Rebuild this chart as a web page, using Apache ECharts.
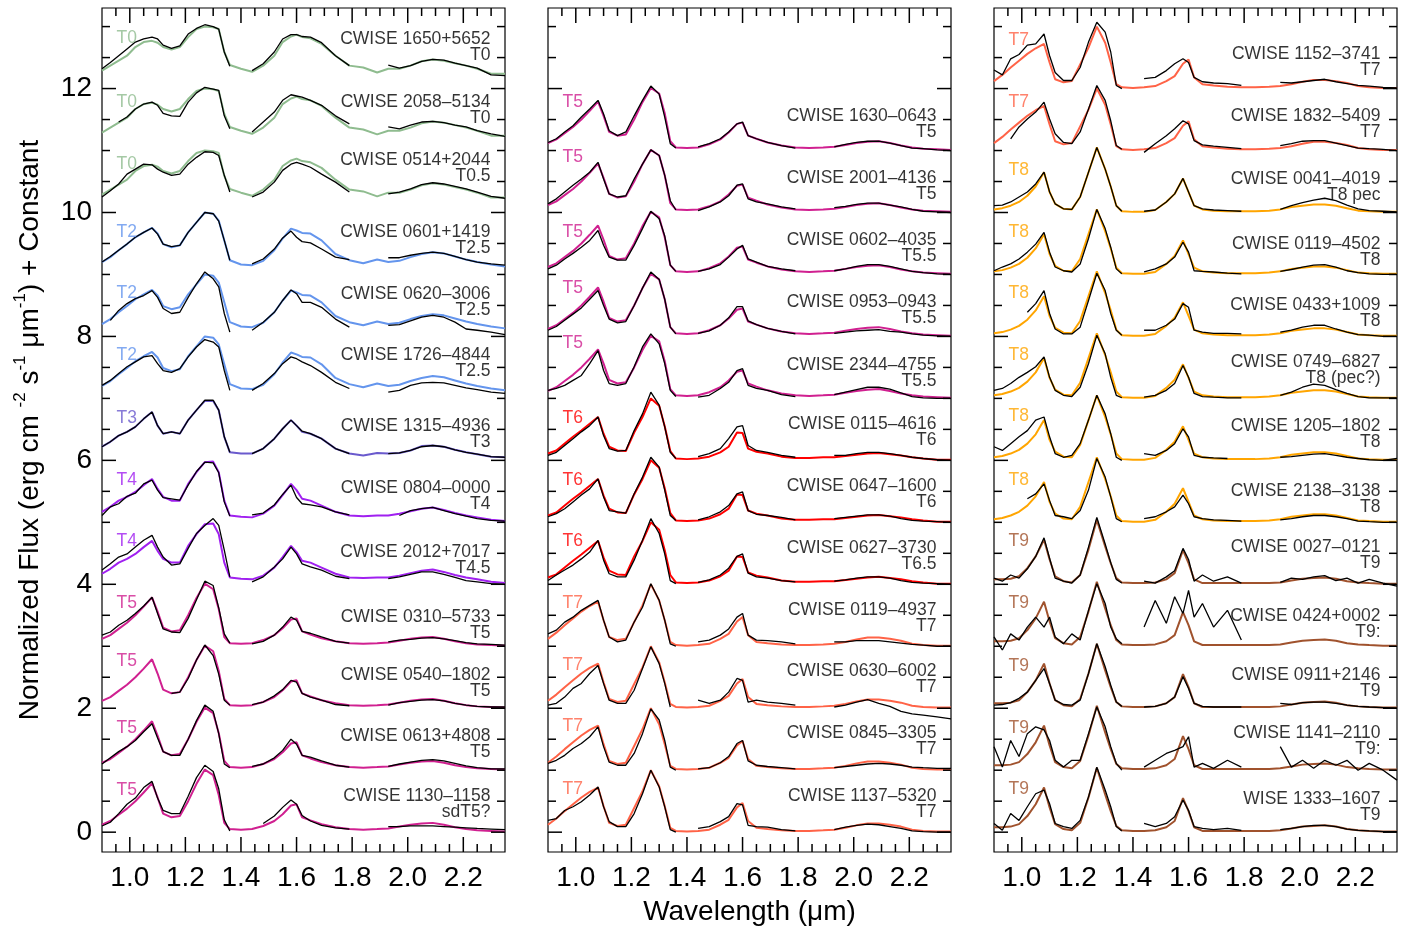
<!DOCTYPE html>
<html><head><meta charset="utf-8">
<script src="https://cdn.jsdelivr.net/npm/echarts@6/dist/echarts.min.js"></script>
<style>html,body{margin:0;padding:0;background:#fff}#c{width:1409px;height:931px}</style>
</head><body><div id="c"></div>
<script>
// ---------------- DATA ----------------
const wavelength = [0.90,0.93,0.96,0.99,1.02,1.05,1.08,1.10,1.12,1.15,1.18,1.21,1.24,1.27,1.30,1.32,1.34,1.36,1.40,1.44,1.48,1.52,1.55,1.58,1.60,1.62,1.65,1.69,1.74,1.79,1.84,1.89,1.93,1.97,2.01,2.05,2.09,2.13,2.17,2.21,2.25,2.30,2.35];

// spectral standards (normalized flux)
const stdT0 = [0.29,0.37,0.45,0.53,0.67,0.75,0.77,0.74,0.67,0.63,0.67,0.83,0.96,1.00,0.99,0.96,0.59,0.38,0.32,0.27,0.37,0.53,0.75,0.84,0.87,0.83,0.81,0.72,0.53,0.37,0.34,0.26,0.32,0.32,0.37,0.44,0.47,0.45,0.41,0.37,0.32,0.24,0.24];
const stdT2 = [0.20,0.28,0.39,0.49,0.60,0.68,0.75,0.66,0.49,0.44,0.47,0.68,0.84,1.00,0.98,0.87,0.55,0.23,0.16,0.15,0.22,0.39,0.58,0.74,0.71,0.67,0.66,0.55,0.33,0.23,0.18,0.24,0.20,0.22,0.28,0.33,0.36,0.34,0.29,0.24,0.20,0.16,0.13];
const stdT3 = [0.22,0.30,0.40,0.46,0.54,0.67,0.78,0.56,0.43,0.46,0.43,0.65,0.81,0.96,0.96,0.81,0.38,0.13,0.11,0.11,0.19,0.35,0.51,0.65,0.56,0.46,0.43,0.35,0.19,0.11,0.08,0.12,0.11,0.12,0.16,0.23,0.24,0.22,0.17,0.13,0.10,0.06,0.05];
const stdT4 = [0.17,0.25,0.35,0.41,0.49,0.60,0.70,0.54,0.41,0.35,0.35,0.62,0.81,0.97,0.98,0.81,0.35,0.11,0.09,0.08,0.14,0.27,0.44,0.62,0.52,0.38,0.35,0.27,0.17,0.11,0.10,0.11,0.11,0.14,0.18,0.22,0.24,0.20,0.15,0.11,0.08,0.04,0.02];
const stdT5 = [0.12,0.18,0.28,0.38,0.50,0.64,0.79,0.56,0.30,0.24,0.26,0.50,0.78,1.01,0.92,0.60,0.15,0.05,0.04,0.05,0.10,0.18,0.29,0.43,0.45,0.24,0.19,0.13,0.08,0.05,0.04,0.05,0.06,0.09,0.12,0.14,0.15,0.12,0.08,0.05,0.03,0.02,0.01];
const stdT6 = [0.11,0.16,0.27,0.38,0.48,0.59,0.70,0.43,0.22,0.16,0.15,0.45,0.70,1.00,0.88,0.55,0.15,0.03,0.02,0.03,0.06,0.13,0.22,0.45,0.44,0.19,0.14,0.11,0.06,0.04,0.04,0.05,0.05,0.07,0.09,0.11,0.12,0.10,0.08,0.05,0.03,0.01,0.01];
const stdT7 = [0.12,0.22,0.34,0.45,0.56,0.65,0.72,0.42,0.15,0.10,0.12,0.39,0.66,1.00,0.74,0.42,0.07,0.02,0.01,0.02,0.04,0.12,0.20,0.40,0.47,0.18,0.07,0.05,0.03,0.02,0.02,0.03,0.04,0.07,0.11,0.14,0.14,0.12,0.09,0.04,0.02,0.01,0.01];
const stdT8 = [0.05,0.07,0.11,0.17,0.27,0.42,0.65,0.33,0.14,0.06,0.05,0.25,0.65,1.05,0.70,0.42,0.11,0.02,0.01,0.01,0.04,0.17,0.30,0.55,0.33,0.11,0.05,0.03,0.02,0.02,0.02,0.03,0.05,0.09,0.11,0.13,0.13,0.11,0.07,0.03,0.02,0.01,0.01];
const stdT9 = [0.08,0.08,0.09,0.13,0.26,0.45,0.72,0.40,0.13,0.05,0.03,0.15,0.56,1.04,0.61,0.34,0.10,0.03,0.02,0.02,0.03,0.08,0.18,0.55,0.34,0.08,0.02,0.02,0.02,0.02,0.02,0.02,0.03,0.06,0.09,0.10,0.11,0.09,0.05,0.03,0.02,0.01,0.01];

// observed spectra, left panel
const fluxL1650 = [0.32,0.42,0.53,0.64,0.75,0.80,0.83,0.80,0.70,0.65,0.69,0.88,0.97,1.03,1.00,0.96,0.59,0.36,null,0.29,0.40,0.59,0.80,0.87,0.87,0.84,0.83,0.74,0.53,0.37,null,null,0.38,0.33,0.37,0.44,0.47,0.46,0.41,0.37,0.33,0.22,0.21];
const fluxL2058 = [null,null,0.46,0.54,0.67,0.75,0.78,0.73,0.60,0.56,0.55,0.78,0.93,1.02,0.99,0.97,0.56,0.35,null,0.30,0.46,0.62,0.81,0.90,0.88,0.86,0.81,0.73,0.56,0.43,null,null,0.38,0.35,0.41,0.46,0.47,0.45,0.41,0.38,0.32,0.27,0.23];
const fluxL0514 = [0.25,0.35,0.46,0.62,0.70,0.78,0.77,0.70,0.65,0.60,0.62,0.78,0.89,0.98,0.97,0.92,0.60,0.33,null,0.25,0.33,0.49,0.68,0.78,0.81,0.78,0.73,0.62,0.49,0.33,null,null,0.30,0.33,0.38,0.45,0.48,0.46,0.42,0.38,0.33,0.26,0.23];
const fluxL0601 = [0.20,0.29,0.39,0.49,0.60,0.68,0.75,0.65,0.49,0.45,0.47,0.68,0.84,1.00,0.98,0.86,0.55,0.23,null,0.17,0.25,0.41,0.59,0.70,0.60,0.53,0.51,0.41,0.28,0.24,null,null,0.27,0.27,0.31,0.34,0.36,0.34,0.29,0.24,0.20,0.17,0.15];
const fluxL0620 = [null,0.26,0.42,0.53,0.61,0.66,0.74,0.63,0.45,0.37,0.39,0.63,0.85,1.04,0.93,0.80,0.37,0.07,null,0.10,0.23,0.39,0.58,0.75,0.69,0.55,0.55,0.47,0.28,0.15,null,null,0.18,0.19,0.25,0.31,0.34,0.31,0.23,0.12,0.10,0.07,0.03];
const fluxL1726 = [0.21,0.29,0.40,0.51,0.59,0.67,0.69,0.56,0.45,0.42,0.48,0.67,0.83,0.95,0.91,0.83,0.45,0.13,null,0.13,0.24,0.40,0.56,0.67,0.64,0.59,0.53,0.42,0.26,0.16,null,null,0.10,0.13,0.21,0.25,0.26,0.25,0.21,0.17,0.14,0.10,0.08];
const fluxL1315 = [0.22,0.30,0.40,0.46,0.54,0.67,0.78,0.56,0.43,0.46,0.43,0.65,0.81,0.97,0.97,0.81,0.38,0.13,null,0.11,0.19,0.35,0.51,0.65,0.56,0.47,0.43,0.35,0.19,0.11,null,null,0.11,0.12,0.16,0.22,0.24,0.22,0.17,0.13,0.10,0.06,0.05];
const fluxL0804 = [0.11,0.25,0.30,0.42,0.47,0.62,0.68,0.52,0.40,0.38,0.36,0.60,0.82,0.97,0.96,0.80,0.33,0.10,null,0.12,0.15,0.28,0.45,0.60,0.40,0.30,0.28,0.25,0.17,0.12,null,null,null,0.11,0.19,0.22,0.24,0.19,0.14,0.10,0.06,0.03,0.02];
const fluxL2012 = [0.23,0.33,0.44,0.49,0.60,0.71,0.79,0.60,0.44,0.31,0.33,0.58,0.82,0.95,1.06,0.95,0.55,0.12,null,0.04,0.12,0.28,0.41,0.60,0.49,0.33,0.28,0.23,0.13,0.09,null,null,0.09,0.12,0.16,0.20,0.20,0.16,0.11,0.06,0.04,0.01,0.00];
const fluxL0310 = [0.18,0.23,0.34,0.42,0.53,0.65,0.79,0.53,0.28,0.23,0.22,0.45,0.75,1.05,0.98,0.62,0.20,0.05,null,0.04,0.08,0.18,0.31,0.47,0.42,0.24,0.21,0.15,0.08,0.05,null,null,0.07,0.10,0.11,0.13,0.14,0.12,0.09,0.06,0.04,0.03,0.02];
const fluxL0540 = [null,null,null,null,null,null,null,null,null,0.24,0.26,0.48,0.78,1.02,0.85,0.55,0.13,0.05,null,0.06,0.10,0.20,0.30,0.45,0.42,0.24,0.18,0.13,0.06,0.04,null,null,0.05,0.09,0.11,0.13,0.14,0.12,0.08,0.05,0.03,0.02,0.02];
const fluxL0613 = [0.10,0.20,0.30,0.38,0.48,0.62,0.75,0.52,0.30,0.24,0.24,0.50,0.80,1.05,0.95,0.59,0.10,0.04,null,0.06,0.10,0.20,0.32,0.50,0.42,0.24,0.21,0.15,0.08,0.05,null,null,0.06,0.10,0.13,0.16,0.17,0.15,0.11,0.07,0.04,0.02,0.02];
const fluxL1130 = [0.10,0.16,0.30,0.45,0.55,0.72,0.82,0.55,0.35,0.30,0.30,0.58,0.88,1.08,0.98,0.70,0.20,0.02,null,null,0.14,0.26,0.40,0.52,0.45,0.27,0.18,0.11,0.07,0.05,null,null,0.09,0.09,0.10,0.10,0.10,0.09,0.08,0.07,0.06,0.05,0.04];

// middle panel
const fluxM1630 = [0.13,0.19,0.30,0.40,0.54,0.67,0.81,0.59,0.32,0.24,0.30,0.56,0.81,1.04,0.91,0.54,0.11,0.04,null,0.06,0.11,0.19,0.30,0.43,0.46,0.24,0.19,0.13,0.08,0.04,null,null,0.06,0.10,0.13,0.15,0.15,0.12,0.08,0.04,0.03,0.01,0.00];
const fluxM2001 = [0.14,0.22,0.33,0.44,0.54,0.65,0.81,0.54,0.30,0.25,0.27,0.54,0.78,1.01,0.92,0.60,0.19,0.04,null,0.03,0.09,0.17,0.27,0.44,0.46,0.22,0.17,0.14,0.09,0.06,null,null,0.08,0.10,0.13,0.15,0.15,0.12,0.09,0.05,0.02,0.01,0.00];
const fluxM0602 = [0.09,0.15,0.25,0.34,0.44,0.55,0.71,0.47,0.28,0.23,0.23,0.47,0.74,1.02,0.90,0.62,0.15,0.05,null,0.05,0.09,0.16,0.28,0.41,0.47,0.25,0.20,0.13,0.09,0.06,null,null,0.06,0.09,0.13,0.16,0.16,0.13,0.09,0.05,0.03,0.01,0.00];
const fluxM0953 = [0.10,0.16,0.26,0.36,0.46,0.60,0.74,0.50,0.28,0.22,0.24,0.50,0.78,1.04,0.92,0.60,0.15,0.04,null,0.05,0.09,0.18,0.30,0.48,0.48,0.25,0.19,0.13,0.08,0.04,null,null,0.05,0.07,0.09,0.10,0.11,0.08,0.07,0.04,0.02,0.01,0.00];
const fluxM2344 = [0.13,0.16,0.21,0.29,0.37,0.56,0.77,0.45,0.24,0.21,0.24,0.51,0.83,1.04,0.88,0.56,0.13,0.03,null,0.02,0.05,0.16,0.26,0.45,0.48,0.21,0.16,0.13,0.06,0.03,null,null,0.06,0.10,0.14,0.18,0.18,0.15,0.09,0.03,0.01,0.00,0.00];
const fluxM0115 = [0.08,0.13,0.24,0.35,0.46,0.56,0.70,0.40,0.19,0.15,0.16,0.48,0.75,1.10,0.89,0.54,0.13,0.03,null,0.06,0.11,0.19,0.35,0.54,0.56,0.24,0.16,0.13,0.08,0.05,null,null,0.08,0.08,0.11,0.13,0.13,0.11,0.08,0.05,0.03,0.01,0.00];
const fluxM0647 = [0.09,0.14,0.22,0.33,0.44,0.54,0.70,0.41,0.19,0.17,0.15,0.46,0.73,1.05,0.89,0.52,0.11,0.03,null,0.04,0.09,0.17,0.27,0.46,0.49,0.19,0.13,0.11,0.08,0.04,null,null,0.06,0.08,0.10,0.12,0.12,0.10,0.06,0.03,0.02,0.01,0.00];
const fluxM0627 = [0.06,0.15,0.23,0.31,0.41,0.52,0.71,0.39,0.17,0.12,0.12,0.39,0.71,1.06,0.82,0.49,0.06,0.01,null,0.03,0.07,0.15,0.26,0.45,0.49,0.18,0.12,0.10,0.06,0.04,null,null,0.05,0.07,0.10,0.12,0.12,0.10,0.06,0.03,0.02,0.01,0.00];
const fluxM0119 = [0.20,0.26,0.39,0.47,0.58,0.66,0.74,0.42,0.15,0.07,0.10,0.39,0.63,1.01,0.74,0.42,0.04,0.00,null,0.07,0.10,0.18,0.28,0.47,0.53,0.18,0.10,0.09,0.07,0.04,null,null,0.07,0.07,0.09,0.09,0.09,0.07,0.05,0.03,0.02,0.00,0.00];
const fluxM0630 = [0.05,0.08,0.18,0.32,0.40,0.56,0.69,0.40,0.13,0.08,0.08,0.29,0.64,0.99,0.72,0.40,0.02,null,null,0.13,0.08,0.13,0.26,0.48,0.45,0.10,0.13,0.10,0.08,0.05,null,null,0.02,0.05,0.10,0.14,0.08,0.03,-0.05,-0.09,-0.11,-0.14,-0.17];
const fluxM0845 = [0.11,0.16,0.24,0.35,0.43,0.54,0.70,0.38,0.13,0.08,0.08,0.27,0.59,0.99,0.81,0.48,0.05,0.00,null,0.02,0.04,0.12,0.22,0.43,0.48,0.15,0.08,0.06,0.04,0.02,null,null,0.04,0.06,0.08,0.10,0.11,0.10,0.08,0.05,0.04,0.03,0.03];
const fluxM1137 = [0.19,0.22,0.35,0.41,0.49,0.60,0.73,0.41,0.17,0.09,0.09,0.30,0.62,1.00,0.73,0.41,0.04,0.00,null,0.06,0.09,0.17,0.25,0.46,0.44,0.11,0.09,0.08,0.04,0.02,null,null,0.04,0.08,0.11,0.13,0.12,0.09,0.06,0.02,0.01,0.00,0.00];

// right panel
const fluxR1152 = [0.30,0.22,0.48,0.55,0.70,0.72,0.88,0.53,0.26,0.13,0.13,0.34,0.75,1.07,0.91,0.59,0.05,0.00,null,0.16,0.18,0.29,0.40,0.48,0.42,0.18,0.11,0.09,0.08,0.05,null,null,0.10,0.09,0.11,0.13,0.15,0.11,0.08,0.05,0.04,0.02,0.01];
const fluxR1832 = [null,null,0.19,0.38,0.51,0.62,0.78,0.51,0.27,0.13,0.11,0.30,0.67,1.05,0.81,0.48,0.08,0.02,null,-0.03,0.11,0.24,0.35,0.48,0.43,0.16,0.09,0.07,0.05,0.03,null,null,0.08,0.11,0.15,0.16,0.16,0.12,0.08,0.04,0.03,0.02,0.00];
const fluxR0041 = [0.11,0.12,0.17,0.25,0.33,0.46,0.65,0.33,0.14,0.06,0.05,0.25,0.65,1.05,0.70,0.42,0.11,0.02,null,0.02,0.04,0.17,0.30,0.55,0.33,0.11,0.06,0.04,0.03,0.02,null,null,0.05,0.11,0.16,0.20,0.23,0.19,0.12,0.06,0.03,0.02,0.01];
const fluxR0119 = [0.06,0.12,0.17,0.25,0.36,0.49,0.68,0.36,0.12,0.06,0.04,0.17,0.58,1.05,0.74,0.44,0.09,0.01,null,0.04,0.09,0.17,0.28,0.52,0.36,0.06,0.05,0.04,0.02,0.01,null,null,0.05,0.08,0.12,0.15,0.16,0.12,0.06,0.03,0.01,0.00,0.00];
const fluxR0433 = [null,null,null,null,0.39,0.53,0.74,0.37,0.12,0.04,0.04,0.15,0.58,1.02,0.74,0.37,0.10,0.02,null,0.10,0.10,0.18,0.28,0.53,0.47,0.10,0.07,0.05,0.05,0.04,null,null,0.07,0.10,0.15,0.18,0.18,0.12,0.07,0.03,0.02,0.00,0.00];
const fluxR0749 = [0.13,0.16,0.24,0.34,0.42,0.51,0.67,0.34,0.13,0.05,0.03,0.18,0.56,1.02,0.72,0.34,0.05,0.01,null,0.02,0.05,0.13,0.24,0.53,0.34,0.08,0.03,0.02,0.01,0.01,null,null,0.05,0.10,0.18,0.23,0.21,0.14,0.08,0.03,0.01,0.01,0.01];
const fluxR1205 = [0.22,0.16,0.27,0.38,0.48,0.65,0.70,0.38,0.11,0.05,0.08,0.27,0.65,1.05,0.75,0.43,0.05,0.00,null,0.11,0.08,0.16,0.27,0.51,0.38,0.08,0.05,0.04,0.03,null,null,null,0.05,0.06,0.08,0.10,0.11,0.08,0.05,0.03,0.01,0.00,0.03];
const fluxR2138 = [null,null,null,null,0.38,0.46,0.62,0.35,0.11,0.09,0.06,0.19,0.52,1.03,0.73,0.41,0.06,0.01,null,0.06,0.09,0.17,0.25,0.44,0.30,0.09,0.06,0.04,0.03,0.02,null,null,0.04,0.06,0.09,0.11,0.11,0.09,0.06,0.02,0.01,0.00,0.00];
const fluxR0027 = [0.10,0.05,0.15,0.10,0.25,0.45,0.75,0.42,0.10,0.05,0.02,0.15,0.60,1.08,0.65,0.35,0.08,0.02,null,0.05,0.02,0.12,0.22,0.58,0.40,0.05,0.15,0.05,0.12,0.02,null,null,0.03,0.10,0.08,0.12,0.14,0.06,0.10,0.02,0.08,0.02,-0.03];
const fluxR0424 = [0.15,-0.06,0.20,0.10,0.31,0.47,0.31,0.47,0.15,0.04,0.20,0.10,0.58,1.01,0.69,0.31,0.12,0.04,null,0.31,0.74,0.37,0.80,0.53,0.90,0.47,0.69,0.31,0.58,0.10,null,null,null,null,null,null,null,null,null,null,null,null,null];
const fluxR0911 = [0.05,0.06,0.09,0.16,0.26,0.45,0.64,0.40,0.13,0.06,0.05,0.13,0.56,1.04,0.67,0.37,0.10,0.03,null,0.02,0.03,0.08,0.18,0.51,0.32,0.08,0.03,0.02,0.02,0.02,null,null,0.08,0.06,0.09,0.10,0.10,0.08,0.05,0.03,0.02,0.01,0.00];
const fluxR1141 = [0.38,0.05,0.48,0.22,0.59,0.70,0.65,0.48,0.16,0.05,0.16,0.16,0.59,1.02,0.70,0.38,0.11,0.00,null,0.05,0.16,0.27,0.32,0.38,0.54,0.05,0.11,0.03,0.16,0.05,null,null,0.38,0.05,0.16,0.03,0.16,0.08,0.16,0.00,0.11,0.00,-0.16];
const fluxR1333 = [0.14,0.03,0.30,0.19,0.41,0.62,0.68,0.46,0.14,0.09,0.06,0.19,0.57,1.05,0.68,0.41,0.09,0.02,null,0.14,0.09,0.14,0.25,0.52,0.35,0.09,0.06,0.04,0.06,0.03,null,null,0.04,0.06,0.09,0.11,0.11,0.09,0.05,0.03,0.02,0.01,0.01];

// names, types, standards, offsets
const leftNames = ['CWISE 1650+5652','CWISE 2058\u20135134','CWISE 0514+2044','CWISE 0601+1419','CWISE 0620\u20133006','CWISE 1726\u20134844','CWISE 1315\u20134936','CWISE 0804\u20130000','CWISE 2012+7017','CWISE 0310\u20135733','CWISE 0540\u20131802','CWISE 0613+4808','CWISE 1130\u20131158'];
const leftTypes = ['T0','T0','T0.5','T2.5','T2.5','T2.5','T3','T4','T4.5','T5','T5','T5','sdT5?'];
const leftStd = ['T0','T0','T0','T2','T2','T2','T3','T4','T4','T5','T5','T5','T5'];
const leftOffsets = [12,11,10,9,8,7,6,5,4,3,2,1,0];
const leftFlux = [fluxL1650,fluxL2058,fluxL0514,fluxL0601,fluxL0620,fluxL1726,fluxL1315,fluxL0804,fluxL2012,fluxL0310,fluxL0540,fluxL0613,fluxL1130];

const midNames = ['CWISE 1630\u20130643','CWISE 2001\u20134136','CWISE 0602\u20134035','CWISE 0953\u20130943','CWISE 2344\u20134755','CWISE 0115\u20134616','CWISE 0647\u20131600','CWISE 0627\u20133730','CWISE 0119\u20134937','CWISE 0630\u20136002','CWISE 0845\u20133305','CWISE 1137\u20135320'];
const midTypes = ['T5','T5','T5.5','T5.5','T5.5','T6','T6','T6.5','T7','T7','T7','T7'];
const midStd = ['T5','T5','T5','T5','T5','T6','T6','T6','T7','T7','T7','T7'];
const midOffsets = [11,10,9,8,7,6,5,4,3,2,1,0];
const midFlux = [fluxM1630,fluxM2001,fluxM0602,fluxM0953,fluxM2344,fluxM0115,fluxM0647,fluxM0627,fluxM0119,fluxM0630,fluxM0845,fluxM1137];

const rightNames = ['CWISE 1152\u20133741','CWISE 1832\u20135409','CWISE 0041\u20134019','CWISE 0119\u20134502','CWISE 0433+1009','CWISE 0749\u20136827','CWISE 1205\u20131802','CWISE 2138\u20133138','CWISE 0027\u20130121','CWISE 0424+0002','CWISE 0911+2146','CWISE 1141\u20132110','WISE 1333\u20131607'];
const rightTypes = ['T7','T7','T8 pec','T8','T8','T8 (pec?)','T8','T8','T9','T9:','T9','T9:','T9'];
const rightStd = ['T7','T7','T8','T8','T8','T8','T8','T8','T9','T9','T9','T9','T9'];
const rightOffsets = [12,11,10,9,8,7,6,5,4,3,2,1,0];
const rightFlux = [fluxR1152,fluxR1832,fluxR0041,fluxR0119,fluxR0433,fluxR0749,fluxR1205,fluxR2138,fluxR0027,fluxR0424,fluxR0911,fluxR1141,fluxR1333];

const xTickLabels = [1.0,1.2,1.4,1.6,1.8,2.0,2.2];
const yTickLabels = [0,2,4,6,8,10,12];

// ---------------- LAYOUT / STYLE ----------------
const FONT = '"Liberation Sans", Arial, Helvetica, sans-serif';
const XMIN = 0.9, XMAX = 2.35, YMIN = -0.32, YMAX = 13.3;
const GRID_W = 403, GRID_H = 844, GRID_TOP = 8;
const stdTemplates = {T0:stdT0,T2:stdT2,T3:stdT3,T4:stdT4,T5:stdT5,T6:stdT6,T7:stdT7,T8:stdT8,T9:stdT9};
const stdColors = {T0:'#8FBC8F',T2:'#6495ED',T3:'#6A5ACD',T4:'#A020F0',T5:'#D02090',T6:'#FF0000',T7:'#FF6347',T8:'#FFA500',T9:'#A0522D'};
const nameLiftL = [0.66,0.65,0.71,0.55,0.54,0.56,0.41,0.41,0.38,0.34,0.39,0.41,0.44];
const stdLiftL  = [0.80,0.78,0.77,0.67,0.69,0.69,0.67,0.68,0.68,0.68,0.75,0.67,0.67];
const nameLiftM = [0.41,0.41,0.42,0.41,0.40,0.44,0.45,0.45,0.45,0.46,0.46,0.45];
const stdLiftM  = [0.78,0.88,0.68,0.77,0.88,0.67,0.68,0.68,0.69,0.69,0.70,0.68];
const nameLiftR = [0.41,0.42,0.40,0.35,0.36,0.45,0.41,0.37,0.47,0.35,0.40,0.46,0.40];
const stdLiftR  = [0.77,0.78,0.68,0.68,0.69,0.69,0.70,0.68,0.69,0.69,0.67,0.67,0.68];

const panels = [
  {left:102, names:leftNames, types:leftTypes, stds:leftStd, offsets:leftOffsets, flux:leftFlux, nameLift:nameLiftL, stdLift:stdLiftL, inset:14},
  {left:548, names:midNames, types:midTypes, stds:midStd, offsets:midOffsets, flux:midFlux, nameLift:nameLiftM, stdLift:stdLiftM, inset:14},
  {left:994, names:rightNames, types:rightTypes, stds:rightStd, offsets:rightOffsets, flux:rightFlux, nameLift:nameLiftR, stdLift:stdLiftR, inset:16}
];

// tick marks (inside, on all four sides): each one its own short two-point segment
const pxX = (XMAX - XMIN) / GRID_W, pxY = (YMAX - YMIN) / GRID_H;  // data units per pixel
function rnd(v){return Math.round(v*1000)/1000;}
const tickLines = [];
for (let k = 19; k < 47; k++) {
  const v = rnd(k*0.05);
  const len = xTickLabels.some(t => Math.abs(t-v) < 1e-6) ? 15 : 8;
  tickLines.push([[v, YMIN], [v, YMIN + len*pxY]]);
  tickLines.push([[v, YMAX], [v, YMAX - len*pxY]]);
}
for (let k = 1; k <= 26; k++) {
  const v = rnd(k*0.5);
  const len = yTickLabels.some(t => Math.abs(t-v) < 1e-6) ? 14 : 8;
  tickLines.push([[XMIN, v], [XMIN + len*pxX, v]]);
  tickLines.push([[XMAX, v], [XMAX - len*pxX, v]]);
}
tickLines.push([[XMIN, 0], [XMIN + 14*pxX, 0]], [[XMAX, 0], [XMAX - 14*pxX, 0]]);

const grids = [], xAxes = [], yAxes = [], series = [];
panels.forEach((p, g) => {
  grids.push({left:p.left, top:GRID_TOP, width:GRID_W, height:GRID_H, show:true, borderColor:'#000', borderWidth:1.2, backgroundColor:'transparent'});
  const xMain = {type:'value', gridIndex:g, min:XMIN, max:XMAX, position:'bottom',
    axisLine:{show:false, onZero:false}, splitLine:{show:false}, axisTick:{show:false},
    axisLabel:{show:true, customValues:xTickLabels, formatter:v => v.toFixed(1), fontSize:28, color:'#000', fontFamily:FONT, margin:12}};
  if (g === 1) Object.assign(xMain, {name:'Wavelength (\u03bcm)', nameLocation:'middle', nameGap:46, nameTextStyle:{fontSize:28, color:'#000', fontFamily:FONT}});
  xAxes.push(xMain);
  const yMain = {type:'value', gridIndex:g, min:YMIN, max:YMAX, position:'left',
    axisLine:{show:false, onZero:false}, splitLine:{show:false}, axisTick:{show:false},
    axisLabel:{show:g === 0, customValues:yTickLabels, fontSize:28, color:'#000', fontFamily:FONT, margin:10}};
  if (g === 0) Object.assign(yMain, {
    name:'{a|Normalized Flux (erg cm }{s|-2}{a| s}{s|-1}{a| \u03bcm}{s|-1}{a|) + Constant}',
    nameLocation:'middle', nameGap:54, nameRotate:90,
    nameTextStyle:{rich:{a:{fontSize:28, lineHeight:36, color:'#000', fontFamily:FONT}, s:{fontSize:17, lineHeight:18, verticalAlign:'top', color:'#000', fontFamily:FONT}}}});
  yAxes.push(yMain);

  p.names.forEach((n, i) => {
    const off = p.offsets[i];
    const st = stdTemplates[p.stds[i]];
    series.push({type:'line', xAxisIndex:g, yAxisIndex:g, showSymbol:false, silent:true, z:2,
      lineStyle:{color:stdColors[p.stds[i]], width:2}, data: wavelength.map((w,k) => [w, st[k] + off])});
    const fl = p.flux[i];
    series.push({type:'line', xAxisIndex:g, yAxisIndex:g, showSymbol:false, silent:true, z:3, connectNulls:false,
      lineStyle:{color:'#000', width:1.3}, data: wavelength.map((w,k) => [w, fl[k] == null ? null : fl[k] + off])});
  });
  tickLines.forEach(seg => {
    series.push({type:'line', xAxisIndex:g, yAxisIndex:g, showSymbol:false, silent:true, clip:false, z:20,
      lineStyle:{color:'#000', width:1.5}, data:seg});
  });
  series.push({type:'scatter', xAxisIndex:g, yAxisIndex:g, symbolSize:1, itemStyle:{color:'rgba(0,0,0,0)'}, silent:true, clip:false, z:10,
    data: p.names.map((n,i) => ({value:[XMAX, p.offsets[i] + p.nameLift[i]], label:{formatter: n + '\n' + p.types[i]}})),
    label:{show:true, position:[0,0], offset:[-p.inset,0], align:'right', verticalAlign:'middle', fontSize:17.5, lineHeight:16, color:'#000', fontFamily:FONT}});
  series.push({type:'scatter', xAxisIndex:g, yAxisIndex:g, symbolSize:1, itemStyle:{color:'rgba(0,0,0,0)'}, silent:true, clip:false, z:10,
    data: p.stds.map((s,i) => ({value:[XMIN, p.offsets[i] + p.stdLift[i]], label:{formatter:s, color:stdColors[s]}})),
    label:{show:true, position:[0,0], offset:[15,0], align:'left', verticalAlign:'middle', fontSize:17.5, fontFamily:FONT}});
});

const chart = echarts.init(document.getElementById('c'), null, {renderer:'canvas'});
chart.setOption({animation:false, backgroundColor:'#fff', grid:grids, xAxis:xAxes, yAxis:yAxes, series:series});
</script>
</body></html>
